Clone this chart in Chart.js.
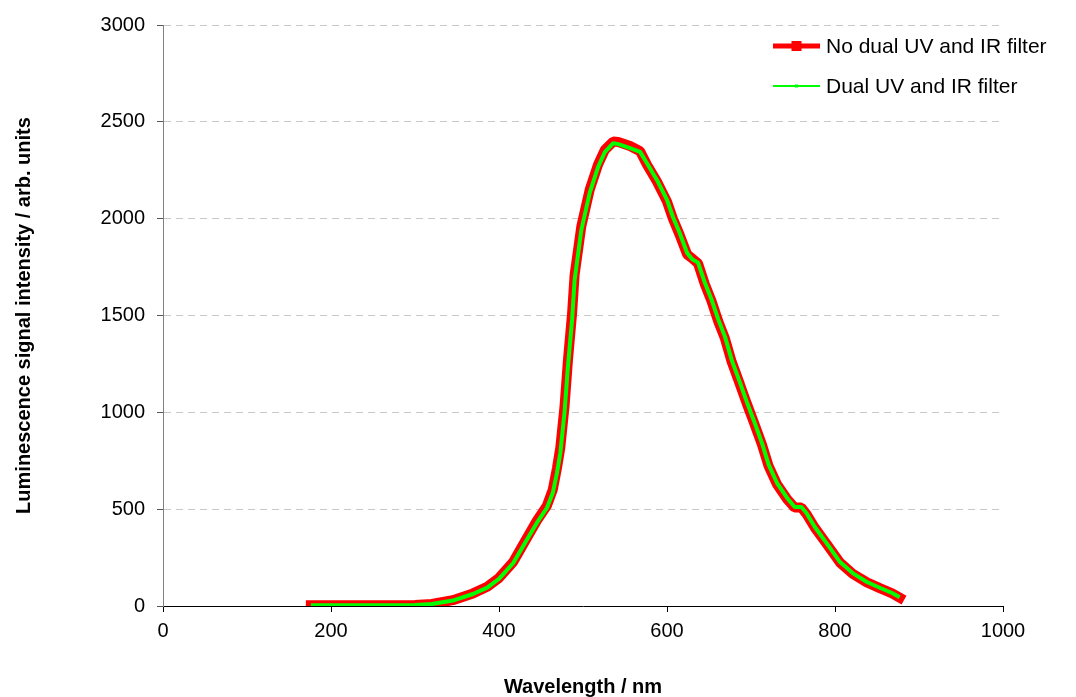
<!DOCTYPE html>
<html>
<head>
<meta charset="utf-8">
<script src="https://cdn.jsdelivr.net/npm/chart.js@4.4.0/dist/chart.umd.min.js"></script>
<style>
    html, body { margin: 0; padding: 0; background: #fff; }
    #wrap { width: 1076px; height: 697px; }
</style>
</head>
<body>
<div id="wrap"><canvas id="spectrumChart"></canvas></div>
<script>
// === Spectrum data (wavelength in nm, intensity in arb. units) ===
const wavelength = [176, 200, 250, 300, 320, 345, 369, 386, 400, 417, 433, 445, 457, 464, 469, 473, 478, 482, 487, 490,
    498, 508, 518, 526, 536, 542, 556, 568, 576, 588, 600, 607, 615, 624, 630, 637, 645, 653, 661, 669,
    677, 687, 695, 703, 713, 721, 731, 743, 752, 760, 766, 776, 790, 806, 821, 838, 854, 868, 877];

const noFilter = [4, 4, 4, 5, 11, 30, 65, 99, 145, 228, 350, 440, 518, 600, 712, 818, 1030, 1265, 1510, 1710,
    1960, 2150, 2280, 2355, 2398, 2396, 2375, 2348, 2280, 2192, 2088, 2000, 1917, 1815, 1795, 1768, 1662, 1574, 1470, 1381,
    1261, 1142, 1045, 953, 834, 722, 628, 552, 508, 508, 475, 404, 321, 224, 167, 122, 91, 65, 43];

const dualFilter = [4, 4, 4, 5, 10, 28, 62, 95, 140, 222, 341, 429, 506, 583, 687, 790, 1000, 1234, 1477, 1683,
    1941, 2133, 2267, 2344, 2390, 2385, 2364, 2345, 2287, 2200, 2097, 2010, 1927, 1823, 1790, 1773, 1670, 1583, 1480, 1391,
    1271, 1152, 1054, 962, 842, 730, 635, 558, 511, 511, 480, 408, 325, 227, 170, 124, 93, 67, 45];

const seriesLabels = ['No dual UV and IR filter', 'Dual UV and IR filter'];

const toPoints = (ys) => wavelength.map((x, i) => ({ x: x, y: ys[i] }));

const FONT = '"Liberation Sans", Arial, sans-serif';

// legend drawn inside the plot, top right: line + square marker + label
const insetLegend = {
    id: 'insetLegend',
    afterDraw(chart, args, opts) {
        const { ctx, chartArea } = chart;
        const lineX1 = chartArea.right - 230;
        const lineX2 = chartArea.right - 183;
        const textX = chartArea.right - 177;
        ctx.save();
        chart.data.datasets.forEach((ds, i) => {
            const item = opts.items[i];
            const y = chartArea.top + 21 + i * 40;
            ctx.strokeStyle = ds.borderColor;
            ctx.lineWidth = item.lineWidth;
            ctx.beginPath();
            ctx.moveTo(lineX1, y);
            ctx.lineTo(lineX2, y);
            ctx.stroke();
            const mx = (lineX1 + lineX2) / 2;
            ctx.fillStyle = ds.borderColor;
            ctx.fillRect(mx - item.marker / 2, y - item.marker / 2, item.marker, item.marker);
            ctx.fillStyle = '#000';
            ctx.font = '21px ' + FONT;
            ctx.textBaseline = 'middle';
            ctx.textAlign = 'left';
            ctx.fillText(ds.label, textX, y + 1);
        });
        ctx.restore();
    }
};

const plainTick = (value) => String(value);

const ctx = document.getElementById('spectrumChart');
new Chart(ctx, {
    type: 'line',
    data: {
        datasets: [{
            label: seriesLabels[0],
            data: toPoints(noFilter),
            borderColor: '#ff0000',
            borderWidth: 10,
            borderCapStyle: 'square',
            borderJoinStyle: 'bevel',
            pointRadius: 0,
            tension: 0,
            order: 1
        }, {
            label: seriesLabels[1],
            data: toPoints(dualFilter),
            borderColor: '#00ff00',
            borderWidth: 4,
            borderJoinStyle: 'bevel',
            pointRadius: 0,
            tension: 0,
            order: 0
        }]
    },
    options: {
        responsive: true,
        maintainAspectRatio: false,
        animation: false,
        devicePixelRatio: 1,
        layout: { padding: { top: 25, right: 73, left: 0, bottom: 0 } },
        plugins: {
            legend: { display: false },
            tooltip: { enabled: false },
            insetLegend: {
                items: [
                    { lineWidth: 5, marker: 10 },
                    { lineWidth: 2, marker: 3 }
                ]
            }
        },
        scales: {
            x: {
                type: 'linear',
                min: 0,
                max: 1000,
                ticks: { stepSize: 200, color: '#000', font: { family: FONT, size: 20 }, padding: 7, maxRotation: 0, callback: plainTick },
                grid: { drawOnChartArea: false, drawTicks: true, tickLength: 6, tickColor: '#000' },
                border: { color: '#000', width: 1 },
                title: {
                    display: true,
                    text: 'Wavelength / nm',
                    color: '#000',
                    font: { family: FONT, size: 20, weight: 'bold' },
                    padding: { top: 0, bottom: -2 }
                },
                afterFit: (scale) => { scale.height = 91; }
            },
            y: {
                min: 0,
                max: 3000,
                ticks: { stepSize: 500, color: '#000', font: { family: FONT, size: 20 }, padding: 12, callback: plainTick },
                grid: { color: '#c8c8c8', tickColor: '#555', tickLength: 6, tickBorderDash: [] },
                border: { color: '#808080', width: 1, dash: [7, 5] },
                title: {
                    display: true,
                    text: 'Luminescence signal intensity / arb. units',
                    color: '#000',
                    font: { family: FONT, size: 20, weight: 'bold' },
                    padding: { top: 12, bottom: 0 }
                },
                afterFit: (scale) => { scale.width = 163; }
            }
        }
    },
    plugins: [insetLegend]
});
</script>
</body>
</html>
